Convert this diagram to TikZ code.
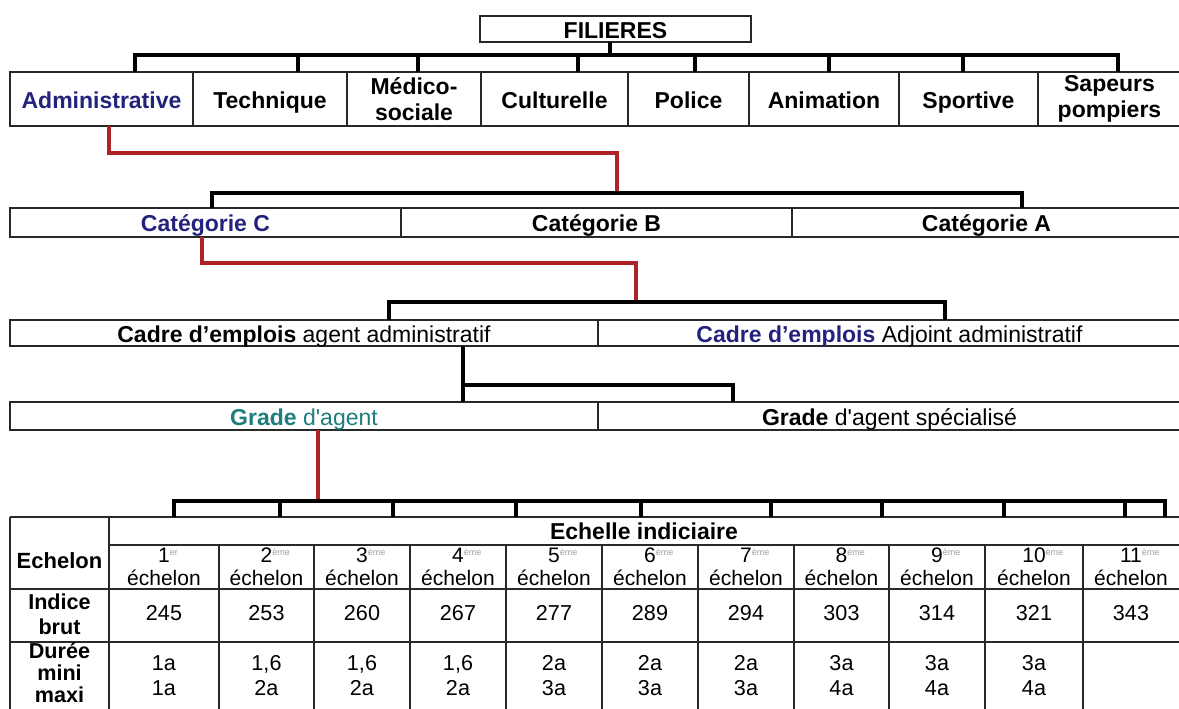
\documentclass[tikz,border=0pt]{standalone}
\usepackage{fontspec}
\setmainfont{Liberation Sans}[Ligatures=TeXOff]
\definecolor{navy}{RGB}{35,35,125}
\definecolor{tealc}{RGB}{30,125,125}
\definecolor{redc}{RGB}{175,35,40}
\definecolor{boxc}{RGB}{40,40,40}
\definecolor{supc}{RGB}{160,160,160}
\begin{document}
\begin{tikzpicture}[x=0.5pt,y=-0.5pt,
  cell/.style={draw=boxc,line width=0.85pt,rectangle,inner sep=0pt,outer sep=0pt,anchor=north west,align=center,font={\fontsize{11.5}{13}\selectfont\bfseries}},
  oneline/.style={text height=9.4pt,text depth=0pt},
  rcell/.style={cell,font={\fontsize{11.5}{13}\selectfont}},
  bus/.style={line width=1.7pt,black},
  redline/.style={line width=1.7pt,redc},
  grid/.style={line width=0.85pt,boxc},
  tlab/.style={inner sep=0pt,align=center,font={\fontsize{10.8}{12.5}\selectfont\bfseries}},
  hdr/.style={inner sep=0pt,align=center,font={\fontsize{10.5}{11.5}\selectfont}},
  num/.style={inner sep=0pt,align=center,font={\fontsize{10.8}{12.5}\selectfont}}
]
\useasboundingbox (0,0) rectangle (1179,708);
\fill[white] (0,0) rectangle (1179,708);
\clip (0,0) rectangle (1179,708);

% ---- FILIERES
\node[cell,oneline,minimum width=135.5pt,minimum height=13pt] (fil) at (480,16) {FILIERES};

% ---- row 1
\node[cell,oneline,minimum width=91.5pt,minimum height=27pt] (adm) at (10,72) {\color{navy}Administrative};
\node[cell,oneline,minimum width=77pt,minimum height=27pt] (tec) at (193,72) {Technique};
\node[cell,minimum width=67pt,minimum height=27pt] (med) at (347,72) {Médico-\\sociale};
\node[cell,oneline,minimum width=73.5pt,minimum height=27pt] (cul) at (481,72) {Culturelle};
\node[cell,oneline,minimum width=60.5pt,minimum height=27pt] (pol) at (628,72) {Police};
\node[cell,oneline,minimum width=75pt,minimum height=27pt] (ani) at (749,72) {Animation};
\node[cell,oneline,minimum width=69.5pt,minimum height=27pt] (spo) at (899,72) {Sportive};
\node[cell,minimum width=71.5pt,minimum height=27pt] (sap) at (1038,72) {Sapeurs\\pompiers};

% ---- row 2
\node[cell,oneline,minimum width=195.5pt,minimum height=14.5pt] (catC) at (10,208) {\color{navy}Catégorie C};
\node[cell,oneline,minimum width=195.5pt,minimum height=14.5pt] (catB) at (401,208) {Catégorie B};
\node[cell,oneline,minimum width=194.5pt,minimum height=14.5pt] (catA) at (792,208) {Catégorie A};

% ---- row 3
\node[rcell,oneline,minimum width=294pt,minimum height=13pt] (cadA) at (10,320) {\textbf{Cadre d’emplois} agent administratif};
\node[rcell,oneline,minimum width=291.5pt,minimum height=13pt] (cadB) at (598,320) {\textcolor{navy}{\textbf{Cadre d’emplois}} Adjoint administratif};

% ---- row 4
\node[rcell,oneline,minimum width=294pt,minimum height=14pt] (grA) at (10,402) {\color{tealc}\textbf{Grade} d'agent};
\node[rcell,oneline,minimum width=291.5pt,minimum height=14pt] (grB) at (598,402) {\textbf{Grade} d'agent spécialisé};

% ---- connectors level 1
\coordinate (s0) at (610,55);
\draw[bus] (fil.south -| s0) -- (s0);
\foreach \x [count=\i] in {135,298,418,578,695,829,963,1118}
  \coordinate (b\i) at (\x,55);
\draw[bus] (b1 |- adm.north) -- (b1) -- (b8) -- (b8 |- adm.north);
\foreach \i in {2,...,7}
  \draw[bus] (b\i) -- (b\i |- adm.north);

% red 1
\coordinate (r1a) at (109,153);
\coordinate (r1b) at (617,153);
\coordinate (c0) at (617,193);
\draw[redline] (adm.south -| r1a) -- (r1a) -- (r1b) -- (c0);

% category bus
\coordinate (cb1) at (212,193);
\coordinate (cb2) at (1022,193);
\draw[bus] (cb1 |- catC.north) -- (cb1) -- (cb2) -- (cb2 |- catA.north);

% red 2
\coordinate (r2a) at (202,263);
\coordinate (r2b) at (636,263);
\coordinate (k0) at (636,302);
\draw[redline] (catC.south -| r2a) -- (r2a) -- (r2b) -- (k0);

% cadre bus
\coordinate (kb1) at (389,302);
\coordinate (kb2) at (945,302);
\draw[bus] (kb1 |- cadA.north) -- (kb1) -- (kb2) -- (kb2 |- cadB.north);

% grade bus
\coordinate (g0) at (463,385);
\coordinate (g1) at (733,385);
\draw[bus] (cadA.south -| g0) -- (g0 |- grA.north);
\draw[bus] (g0) -- (g1) -- (g1 |- grB.north);

% red 3
\coordinate (t0) at (318,501);
\draw[redline] (grA.south -| t0) -- (t0);

% ---- table
\coordinate (ttop) at (10,517);
\draw[grid] (ttop) -- (1181,517);
\draw[grid] (109,545) -- (1181,545);
\draw[grid] (10,589) -- (1181,589);
\draw[grid] (10,642) -- (1181,642);
\draw[grid] (ttop) -- (10,720);
\draw[grid] (109,517) -- (109,720);
\foreach \x in {219,314,410,506,602,698,794,889,985,1083}
  \draw[grid] (\x,545) -- (\x,720);

% table bus
\foreach \x [count=\i] in {174,280,393,516,641,771,882,1004,1125,1165}
  \coordinate (tb\i) at (\x,501);
\draw[bus] (tb1 |- ttop) -- (tb1) -- (tb10) -- (tb10 |- ttop);
\foreach \i in {2,...,9}
  \draw[bus] (tb\i) -- (tb\i |- ttop);

\node[tlab,font={\fontsize{11.5}{13}\selectfont\bfseries}] (echl) at (644,531) {Echelle indiciaire};
\node[tlab,font={\fontsize{11}{13}\selectfont\bfseries}] (echn) at (59.5,561) {Echelon};
\node[tlab] (ib) at (59.5,614.5) {Indice\\brut};
\node[tlab,font={\fontsize{10.8}{11}\selectfont\bfseries}] (du) at (59.5,673) {Durée\\mini\\maxi};

\foreach \cx/\nn/\su/\ib/\dm/\dx [count=\k] in {
  164/1/er/245/1a/1a,
  266.5/2/ème/253/{1,6}/2a,
  362/3/ème/260/{1,6}/2a,
  458/4/ème/267/{1,6}/2a,
  554/5/ème/277/2a/3a,
  650/6/ème/289/2a/3a,
  746/7/ème/294/2a/3a,
  841.5/8/ème/303/3a/4a,
  937/9/ème/314/3a/4a,
  1034/10/ème/321/3a/4a,
  1131/11/ème/343/{}/{}}
{
  \node[hdr] (h\k) at (\cx,566.5) {\nn\rlap{\raisebox{3.5pt}{\fontsize{4.5}{5}\selectfont\color{supc}\su}}\\échelon};
  \node[num] (i\k) at (\cx,613) {\ib};
  \node[num] (d\k) at (\cx,676) {\dm\\\dx};
}
\end{tikzpicture}
\end{document}
